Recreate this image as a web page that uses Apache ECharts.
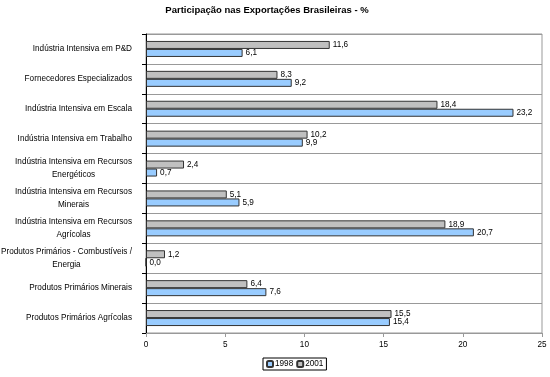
<!DOCTYPE html>
<html><head><meta charset="utf-8">
<script src="https://cdn.jsdelivr.net/npm/echarts@6/dist/echarts.min.js"></script>
<style>html,body{margin:0;padding:0;background:#fff}#c{width:550px;height:377px}</style>
</head><body><div id="c"></div>
<script>
const categories = [
  "Indústria Intensiva em P&D",
  "Fornecedores Especializados",
  "Indústria Intensiva em Escala",
  "Indústria Intensiva em Trabalho",
  "Indústria Intensiva em Recursos\nEnergéticos",
  "Indústria Intensiva em Recursos\nMinerais",
  "Indústria Intensiva em Recursos\nAgrícolas",
  "Produtos Primários - Combustíveis /\nEnergia",
  "Produtos Primários Minerais",
  "Produtos Primários Agrícolas"
];
const values1998 = [6.1, 9.2, 23.2, 9.9, 0.7, 5.9, 20.7, 0.0, 7.6, 15.4];
const values2001 = [11.6, 8.3, 18.4, 10.2, 2.4, 5.1, 18.9, 1.2, 6.4, 15.5];
const xTicks = [0, 5, 10, 15, 20, 25];

const font = "'Liberation Sans', Arial, sans-serif";
const fs = 8.2;
const fmt = p => p.value.toFixed(1).replace('.', ',');
const chart = echarts.init(document.getElementById('c'), null, {renderer: 'canvas'});
const labelCfg = {show: true, position: 'right', distance: 3, formatter: fmt, color: '#000', fontFamily: font, fontSize: fs};
chart.setOption({
  animation: false,
  title: {text: 'Participação nas Exportações Brasileiras - %', left: 262, textAlign: 'center', top: 0,
    textStyle: {fontFamily: font, fontSize: 9.5, fontWeight: 'bold', color: '#000'}},
  legend: {data: ['1998', '2001'], left: 263, top: 358, itemWidth: 6, itemHeight: 6, itemGap: 3,
    borderColor: '#000', borderWidth: 1, padding: [2, 3, 2, 3],
    textStyle: {fontFamily: font, fontSize: fs, color: '#000', padding: [0, 0, 0, -3]}},
  grid: {left: 146, right: 8, top: 34, bottom: 44, show: true, borderColor: '#999', borderWidth: 1,
    outerBoundsMode: 'none', containLabel: false},
  xAxis: {type: 'value', min: xTicks[0], max: xTicks[xTicks.length - 1], interval: 5,
    axisLine: {show: true, lineStyle: {color: '#999'}},
    axisTick: {show: true, length: 4, lineStyle: {color: '#999'}},
    splitLine: {show: false},
    axisLabel: {fontFamily: font, fontSize: fs, color: '#000', margin: 8}},
  yAxis: {type: 'category', data: categories, inverse: true,
    axisLine: {show: true, lineStyle: {color: '#000'}},
    axisTick: {show: true, length: 4, lineStyle: {color: '#000'}},
    splitLine: {show: true, lineStyle: {color: '#999'}},
    axisLabel: {margin: 14, fontFamily: font, fontSize: fs, color: '#000',
      formatter: v => v.split('\n').map(s => '{c|' + s + '}').join('\n'),
      rich: {c: {align: 'center', fontFamily: font, fontSize: fs, color: '#000', lineHeight: 13}}}},
  series: [
    {name: '2001', type: 'bar', data: values2001, barWidth: 8, barGap: '0%',
      itemStyle: {color: '#C0C0C0', borderColor: '#333', borderWidth: 1}, label: labelCfg},
    {name: '1998', type: 'bar', data: values1998, barWidth: 8, barGap: '0%',
      itemStyle: {color: '#99CCFF', borderColor: '#333', borderWidth: 1}, label: labelCfg}
  ]
});
</script></body></html>
